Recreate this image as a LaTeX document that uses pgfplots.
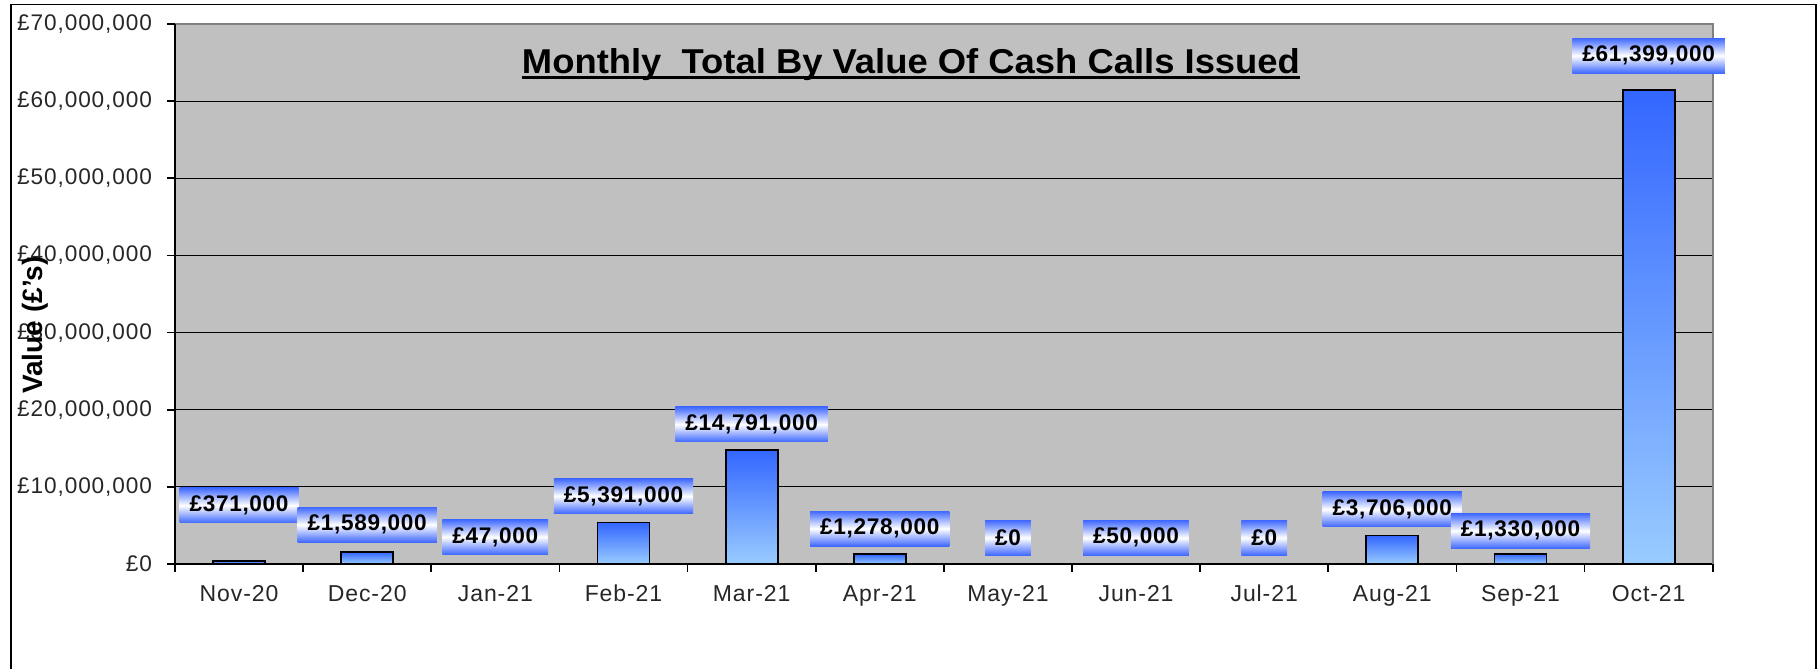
\documentclass[border=0pt]{standalone}
\usepackage{pgfplots}
\pgfplotsset{compat=1.18}
\usepackage{graphicx}
\usepackage{fontspec}
\setmainfont{Liberation Sans}
\newfontfamily\tickfont[LetterSpace=4]{Liberation Sans}
\newfontfamily\lblfont[LetterSpace=3]{Liberation Sans}
\definecolor{plotgray}{RGB}{192,192,192}
\definecolor{bordergray}{RGB}{128,128,128}
\definecolor{bartop}{RGB}{51,102,255}
\definecolor{barbot}{RGB}{153,204,255}
\definecolor{lblblue}{RGB}{64,105,255}
\newcommand\seventy{£70,000,000}
\pgfplotsset{mybar/.style={ybar, bar width=26pt, draw=black, line width=0.9pt, top color=bartop, bottom color=barbot}}
\begin{document}
\begin{tikzpicture}
\useasboundingbox (-87.5pt,-52.5pt) rectangle (821pt,282pt);
\begin{axis}[
  at={(0,0)}, anchor=south west,
  scale only axis,
  width=768.85pt, height=270pt,
  xmin=-0.5, xmax=11.5,
  ymin=0, ymax=70000000,
  axis x line*=bottom, axis y line*=left,
  axis line style={black, line width=0.8pt},
  axis background/.style={fill=plotgray},
  xtick={0,...,11},
  xticklabels={Nov-20,Dec-20,Jan-21,Feb-21,Mar-21,Apr-21,May-21,Jun-21,Jul-21,Aug-21,Sep-21,Oct-21},
  minor xtick={-0.5,0.5,...,11.5},
  major x tick style={draw=none},
  minor x tick style={black, line width=0.8pt},
  tick align=outside,
  major tick length=4pt, minor tick length=4pt,
  ytick={0,10000000,20000000,30000000,40000000,50000000,60000000},
  yticklabels={£0,{£10,000,000},{£20,000,000},{£30,000,000},{£40,000,000},{£50,000,000},{£60,000,000}},
  extra y ticks={70000000},
  extra y tick labels={\seventy},
  extra y tick style={grid=none},
  major y tick style={black, line width=0.8pt},
  ymajorgrids,
  grid style={black, line width=0.6pt},
  scaled y ticks=false,
  yticklabel style={font=\tickfont\fontsize{11.3}{13}\selectfont, text=black!85, anchor=east, xshift=-4pt},
  xticklabel style={font=\tickfont\fontsize{11.5}{13}\selectfont, text=black!85, yshift=-3pt},
  ylabel={\textbf{Value (£'s)}},
  every axis y label/.style={at={(rel axis cs:0,0.4426)}, xshift=-70pt, rotate=90, anchor=center, font=\fontsize{14}{16}\selectfont},
  clip=false,
]
\addplot[mybar] coordinates {(0,371000)};
\addplot[mybar] coordinates {(1,1589000)};
\addplot[mybar] coordinates {(2,47000)};
\addplot[mybar] coordinates {(3,5391000)};
\addplot[mybar] coordinates {(4,14791000)};
\addplot[mybar] coordinates {(5,1278000)};
\addplot[mybar] coordinates {(6,0)};
\addplot[mybar] coordinates {(7,50000)};
\addplot[mybar] coordinates {(8,0)};
\addplot[mybar] coordinates {(9,3706000)};
\addplot[mybar] coordinates {(10,1330000)};
\addplot[mybar] coordinates {(11,61399000)};
\addplot[draw=none, mark=none, nodes near coords, point meta=explicit symbolic,
  every node near coord/.append style={anchor=center, font=\lblfont\bfseries\fontsize{11.3}{12}\selectfont, text=black,
    top color=lblblue, bottom color=lblblue, middle color=white, inner xsep=5pt, inner ysep=0pt, minimum height=17.5pt}]
  coordinates {(0,7600000) [£371,000] (1,5100000) [£1,589,000] (2,3500000) [£47,000] (3,8800000) [£5,391,000]
   (4,18100000) [£14,791,000] (5,4600000) [£1,278,000] (6,3400000) [£0] (7,3400000) [£50,000]
   (8,3400000) [£0] (9,7100000) [£3,706,000] (10,4300000) [£1,330,000] (11,65900000) [£61,399,000]};
\draw[bordergray, line width=1pt] (rel axis cs:0,1) -- (rel axis cs:1,1) -- (rel axis cs:1,0);
\draw[black, line width=0.8pt] (rel axis cs:0,0) -- (rel axis cs:0,1);
\node[anchor=base, inner sep=0pt] (T) at (rel axis cs:0.4786,0.9087) {\resizebox{389pt}{12.5pt}{\bfseries Monthly\ \ Total By Value Of Cash Calls Issued}};
\draw[black, line width=1.8pt] ([yshift=-2.1pt]T.base west) -- ([yshift=-2.1pt]T.base east);
\end{axis}
\draw[black, line width=0.7pt] (-82pt,-60pt) -- (-82pt,279.85pt) -- (820.5pt,279.85pt) -- (820.5pt,-60pt);
\end{tikzpicture}
\end{document}
